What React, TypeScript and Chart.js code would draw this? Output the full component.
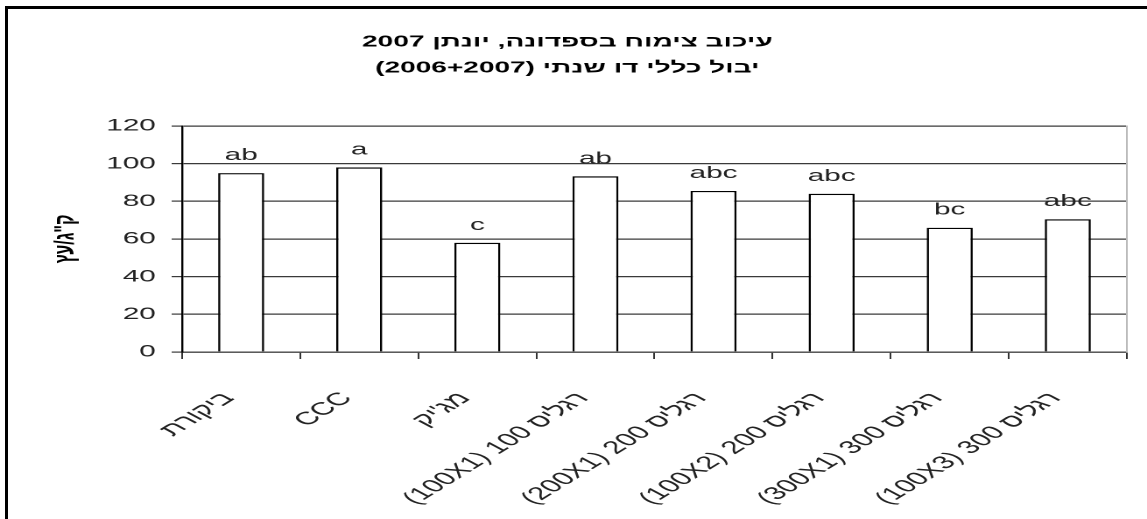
import React, { useEffect, useRef } from "react";
import { Chart, registerables } from "chart.js";

Chart.register(...registerables);

// ---- data ----
const categories = [
  "ביקורת",
  "CCC",
  "מג'יק",
  "(100X1) 100 רגליס",
  "(200X1) 200 רגליס",
  "(100X2) 200 רגליס",
  "(300X1) 300 רגליס",
  "(100X3) 300 רגליס",
];
const yieldValues = [95, 98, 58, 93.3, 85.5, 84, 66, 70.5];
const significance = ["ab", "a", "c", "ab", "abc", "abc", "bc", "abc"];
const titleLines = [
  "2007 עיכוב צימוח בספדונה, יונתן",
  "(2006+2007) יבול כללי דו שנתי",
];
const yAxisTitle = 'ק"ג/עץ';
const yMin = 0;
const yMax = 120;
const yStep = 20;

// ---- layout ----
const PAGE_W = 1147;
const PAGE_H = 519;
const CW = 655; // internal chart width, stretched horizontally to page width
const SX = PAGE_W / CW;
const FONT = "'Liberation Sans', Arial, 'DejaVu Sans', sans-serif";

const lettersPlugin = {
  id: "sigLetters",
  afterDatasetsDraw(chart: any) {
    const ctx = chart.ctx;
    const meta = chart.getDatasetMeta(0);
    ctx.save();
    ctx.font = `17px ${FONT}`;
    ctx.fillStyle = "#222";
    ctx.textAlign = "center";
    ctx.textBaseline = "alphabetic";
    meta.data.forEach((bar: any, i: number) => {
      ctx.fillText(significance[i], bar.x, bar.y - 13);
    });
    ctx.restore();
  },
};

export default function App() {
  const ref = useRef<HTMLCanvasElement | null>(null);

  useEffect(() => {
    if (!ref.current) return;
    const chart = new Chart(ref.current, {
      type: "bar",
      data: {
        labels: categories,
        datasets: [
          {
            data: yieldValues,
            backgroundColor: "#ffffff",
            borderColor: "#000000",
            borderWidth: 1.3,
            borderSkipped: "bottom",
            categoryPercentage: 1,
            barPercentage: 0.39,
          },
        ],
      },
      options: {
        responsive: false,
        animation: false,
        devicePixelRatio: 2,
        layout: { padding: { left: 0, right: 7, top: 0, bottom: 0 } },
        plugins: {
          legend: { display: false },
          tooltip: { enabled: false },
          title: {
            display: true,
            text: titleLines,
            color: "#000",
            font: { family: FONT, size: 16, weight: "bold", lineHeight: 1.625 },
            padding: { top: 29, bottom: 45 },
          },
        },
        scales: {
          x: {
            offset: true,
            grid: {
              offset: true,
              drawOnChartArea: false,
              drawTicks: true,
              tickLength: 7,
              color: "#333",
              lineWidth: 1,
            },
            border: { color: "#444", width: 1.3 },
            ticks: {
              autoSkip: false,
              minRotation: 47,
              maxRotation: 47,
              padding: 29,
              labelOffset: -7,
              color: "#222",
              font: { family: FONT, size: 18 },
            },
            afterFit(scale: any) {
              scale.height = PAGE_H - 352;
            },
          },
          y: {
            min: yMin,
            max: yMax,
            ticks: {
              stepSize: yStep,
              padding: 9,
              color: "#222",
              font: { family: FONT, size: 17 },
            },
            grid: { color: "#3a3a3a", lineWidth: 1.2, tickLength: 6 },
            border: { color: "#000", width: 1.2 },
            title: {
              display: true,
              text: yAxisTitle,
              color: "#000",
              font: { family: FONT, size: 16, weight: "bold" },
              padding: { top: 28, bottom: 0 },
            },
            afterFit(scale: any) {
              scale.width = 104;
            },
          },
          y2: {
            position: "right",
            display: true,
            min: yMin,
            max: yMax,
            ticks: { display: false },
            grid: { display: false, drawTicks: false },
            border: { color: "#bbbbbb", width: 1 },
            afterFit(scale: any) {
              scale.width = 0;
            },
          },
        },
      },
      plugins: [lettersPlugin],
    });
    return () => chart.destroy();
  }, []);

  return (
    <div
      style={{
        position: "absolute",
        left: 0,
        top: 0,
        width: PAGE_W,
        height: PAGE_H,
        overflow: "hidden",
        background: "#fff",
      }}
    >
      <canvas
        ref={ref}
        width={CW}
        height={PAGE_H}
        style={{
          display: "block",
          transform: `scaleX(${SX})`,
          transformOrigin: "0 0",
        }}
      />
      <div
        style={{
          position: "absolute",
          left: 5,
          top: 6,
          width: PAGE_W,
          height: PAGE_H,
          borderLeft: "3px solid #000",
          borderTop: "3px solid #000",
          pointerEvents: "none",
        }}
      />
    </div>
  );
}
